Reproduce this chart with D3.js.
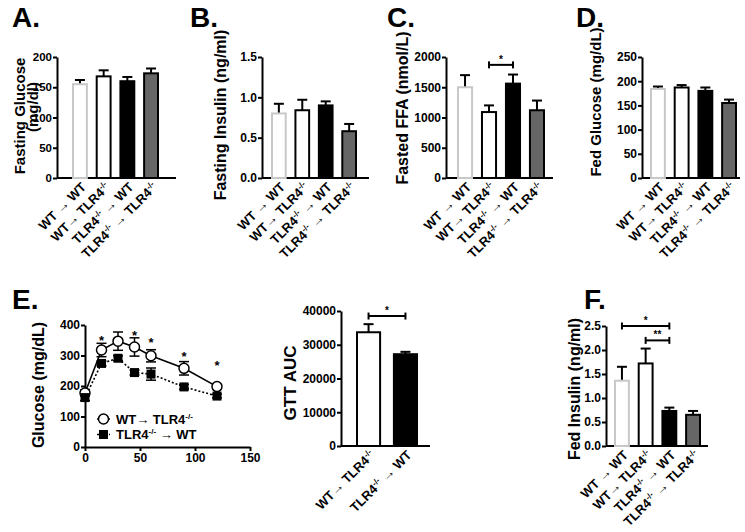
<!DOCTYPE html>
<html><head><meta charset="utf-8">
<script src="https://cdn.jsdelivr.net/npm/d3@7"></script>
<style>
body{margin:0;background:#fff;}
svg text{font-family:"Liberation Sans",Arial,Helvetica,sans-serif;font-weight:bold;fill:#000;}
</style></head><body>
<svg id="fig" width="745" height="532"></svg>
<script>
// ---------------- DATA ----------------
const groups4 = ["WT → WT", "WT→ TLR4-/-", "TLR4-/- → WT", "TLR4-/- → TLR4-/-"];
const groupsGTT = ["WT→ TLR4-/-", "TLR4-/- → WT"];

const fastingGlucose = [155, 168, 160, 173];
const fastingGlucoseSem = [7, 10, 7, 8];
const fastingGlucoseTicks = [0, 50, 100, 150, 200];

const fastingInsulin = [0.80, 0.84, 0.90, 0.58];
const fastingInsulinSem = [0.12, 0.13, 0.05, 0.09];
const fastingInsulinTicks = [0, 0.5, 1.0, 1.5];

const fastedFFA = [1500, 1090, 1560, 1120];
const fastedFFASem = [200, 110, 150, 160];
const fastedFFATicks = [0, 500, 1000, 1500, 2000];

const fedGlucose = [184, 187, 180, 155];
const fedGlucoseSem = [5, 5, 7, 7];
const fedGlucoseTicks = [0, 50, 100, 150, 200, 250];

const gttTime = [0, 15, 30, 45, 60, 90, 120];
const gttWTtoKO = [177, 318, 347, 328, 299, 258, 198];
const gttWTtoKOSem = [10, 22, 30, 30, 20, 22, 6];
const gttKOtoWT = [162, 274, 291, 244, 239, 197, 167];
const gttKOtoWTSem = [10, 8, 8, 8, 20, 8, 6];
const gttStarTimes = [15, 45, 60, 90, 120];
const gttStarLevels = [361, 377, 354, 308, 279];
const gttXTicks = [0, 50, 100, 150];
const gttYTicks = [0, 100, 200, 300, 400];

const gttAUC = [33700, 27200];
const gttAUCSem = [2400, 700];
const gttAUCTicks = [0, 10000, 20000, 30000, 40000];

const fedInsulin = [1.36, 1.72, 0.73, 0.65];
const fedInsulinSem = [0.29, 0.31, 0.07, 0.08];
const fedInsulinTicks = [0, 0.5, 1.0, 1.5, 2.0, 2.5];

// ---------------- STYLE ----------------
const fills4 = ["#ffffff", "#ffffff", "#000000", "#666666"];
const strokes4 = ["#c8c8c8", "#000000", "#000000", "#000000"];
const fillsGTT = ["#ffffff", "#000000"];
const strokesGTT = ["#000000", "#000000"];

const svg = d3.select("#fig");

function catLabel(g, str, x, y, fs, anchor, rot) {
  const t = g.append("text").attr("text-anchor", anchor).attr("font-size", fs)
    .attr("transform", `translate(${x},${y})` + (rot ? ` rotate(${rot})` : ""));
  const parts = str.split("-/-");
  let shifted = false;
  const sh = fs * 0.38;
  parts.forEach((p, i) => {
    if (p) {
      const s = t.append("tspan").text(p);
      if (shifted) { s.attr("dy", sh); shifted = false; }
    }
    if (i < parts.length - 1) {
      t.append("tspan").attr("font-size", fs * 0.62).attr("dy", -sh).text("-/-");
      shifted = true;
    }
  });
  return t;
}

function styleAxis(g, fs) {
  g.attr("font-family", null).attr("font-size", fs);
  g.select(".domain").attr("stroke-width", 2);
  g.selectAll(".tick line").attr("stroke-width", 2);
}

function barPanel(cfg) {
  const g = svg.append("g");
  const y = d3.scaleLinear().domain([0, cfg.max]).range([cfg.yBottom, cfg.yTop]);
  const x = d3.scaleBand().domain(cfg.cats).range([cfg.barL, cfg.barR]).paddingInner(cfg.pi);
  g.append("line").attr("x1", cfg.axisX).attr("x2", cfg.axisEnd)
    .attr("y1", y(0)).attr("y2", y(0)).attr("stroke", "#000").attr("stroke-width", 2);
  cfg.cats.forEach((c, i) => {
    const v = cfg.values[i], e = cfg.sem[i];
    const cx = x(c) + x.bandwidth() / 2;
    g.append("line").attr("x1", cx).attr("x2", cx).attr("y1", y(v)).attr("y2", y(v + e))
      .attr("stroke", "#000").attr("stroke-width", 2);
    g.append("line").attr("x1", cx - 5).attr("x2", cx + 5).attr("y1", y(v + e)).attr("y2", y(v + e))
      .attr("stroke", "#000").attr("stroke-width", 2);
    g.append("rect").attr("x", x(c) + 1).attr("y", y(v)).attr("width", x.bandwidth() - 2)
      .attr("height", y(0) - y(v)).attr("fill", cfg.fills[i]).attr("stroke", cfg.strokes[i])
      .attr("stroke-width", 2);
    catLabel(g, c, cx + 7, y(0) + 10, 13, "end", -45);
  });
  const ax = g.append("g").attr("transform", `translate(${cfg.axisX},0)`)
    .call(d3.axisLeft(y).tickValues(cfg.ticks).tickFormat(cfg.fmt).tickSize(4).tickSizeOuter(0).tickPadding(1));
  styleAxis(ax, cfg.tickFs || 12);
  (cfg.brackets || []).forEach(b => {
    const x1 = x(cfg.cats[b.from]) + x.bandwidth() / 2;
    const x2 = x(cfg.cats[b.to]) + x.bandwidth() / 2;
    const yy = y(b.level);
    g.append("line").attr("x1", x1).attr("x2", x2).attr("y1", yy).attr("y2", yy)
      .attr("stroke", "#000").attr("stroke-width", 2);
    [x1, x2].forEach(xx => g.append("line").attr("x1", xx).attr("x2", xx)
      .attr("y1", yy - 3.5).attr("y2", yy + 3.5).attr("stroke", "#000").attr("stroke-width", 2));
    g.append("text").attr("x", (x1 + x2) / 2).attr("y", yy - 2).attr("text-anchor", "middle")
      .attr("font-size", 10).attr("font-weight", "normal").text(b.label);
  });
  return g;
}

const f1 = d3.format(".1f");
const f0 = d3.format("d");

// A
barPanel({cats: groups4, values: fastingGlucose, sem: fastingGlucoseSem, ticks: fastingGlucoseTicks,
  fmt: f0, max: 200, yTop: 57, yBottom: 178, axisX: 57, axisEnd: 176, barL: 72, barR: 159, pi: 0.33,
  fills: fills4, strokes: strokes4, tickFs: 11.5});
// B
barPanel({cats: groups4, values: fastingInsulin, sem: fastingInsulinSem, ticks: fastingInsulinTicks,
  fmt: f1, max: 1.5, yTop: 57, yBottom: 178, axisX: 262, axisEnd: 369, barL: 271, barR: 357, pi: 0.33,
  fills: fills4, strokes: strokes4});
// C
barPanel({cats: groups4, values: fastedFFA, sem: fastedFFASem, ticks: fastedFFATicks,
  fmt: f0, max: 2000, yTop: 57, yBottom: 178, axisX: 446, axisEnd: 553, barL: 457, barR: 545, pi: 0.33,
  fills: fills4, strokes: strokes4, brackets: [{from: 1, to: 2, level: 1870, label: "*"}]});
// D
barPanel({cats: groups4, values: fedGlucose, sem: fedGlucoseSem, ticks: fedGlucoseTicks,
  fmt: f0, max: 250, yTop: 57, yBottom: 178, axisX: 642, axisEnd: 740, barL: 650, barR: 737, pi: 0.33,
  fills: fills4, strokes: strokes4});
// GTT AUC
barPanel({cats: groupsGTT, values: gttAUC, sem: gttAUCSem, ticks: gttAUCTicks,
  fmt: f0, max: 40000, yTop: 311, yBottom: 446, axisX: 341, axisEnd: 430, barL: 356, barR: 418, pi: 0.32,
  fills: fillsGTT, strokes: strokesGTT, brackets: [{from: 0, to: 1, level: 38500, label: "*"}]});
// F
barPanel({cats: groups4, values: fedInsulin, sem: fedInsulinSem, ticks: fedInsulinTicks,
  fmt: f1, max: 2.5, yTop: 326, yBottom: 446, axisX: 606, axisEnd: 708, barL: 614, barR: 701, pi: 0.33,
  fills: fills4, strokes: strokes4,
  brackets: [{from: 0, to: 2, level: 2.5, label: "*"}, {from: 1, to: 2, level: 2.2, label: "**"}]});

// E: GTT curves
(function () {
  const g = svg.append("g");
  const x = d3.scaleLinear().domain([0, 150]).range([85, 250]);
  const y = d3.scaleLinear().domain([0, 400]).range([447, 325]);
  const ax = g.append("g").attr("transform", `translate(0,${y(0)})`)
    .call(d3.axisBottom(x).tickValues(gttXTicks).tickSize(4).tickSizeOuter(0).tickPadding(2));
  styleAxis(ax, 12);
  const ay = g.append("g").attr("transform", `translate(${x(0)},0)`)
    .call(d3.axisLeft(y).tickValues(gttYTicks).tickSize(4).tickSizeOuter(0).tickPadding(1));
  styleAxis(ay, 12);

  const line = d3.line().x((d, i) => x(gttTime[i])).y(d => y(d));
  g.append("path").datum(gttWTtoKO).attr("d", line).attr("fill", "none")
    .attr("stroke", "#000").attr("stroke-width", 1.6);
  g.append("path").datum(gttKOtoWT).attr("d", line).attr("fill", "none")
    .attr("stroke", "#000").attr("stroke-width", 1.6).attr("stroke-dasharray", "2,2");

  function errs(vals, sem) {
    vals.forEach((v, i) => {
      const cx = x(gttTime[i]);
      g.append("line").attr("x1", cx).attr("x2", cx).attr("y1", y(v - sem[i])).attr("y2", y(v + sem[i]))
        .attr("stroke", "#000").attr("stroke-width", 1.5);
      [v - sem[i], v + sem[i]].forEach(e => g.append("line").attr("x1", cx - 5).attr("x2", cx + 5)
        .attr("y1", y(e)).attr("y2", y(e)).attr("stroke", "#000").attr("stroke-width", 1.5));
    });
  }
  errs(gttWTtoKO, gttWTtoKOSem);
  errs(gttKOtoWT, gttKOtoWTSem);

  g.selectAll("circle.wt").data(gttWTtoKO).join("circle").attr("class", "wt")
    .attr("cx", (d, i) => x(gttTime[i])).attr("cy", d => y(d)).attr("r", 5)
    .attr("fill", "#fff").attr("stroke", "#000").attr("stroke-width", 1.5);
  g.selectAll("rect.ko").data(gttKOtoWT).join("rect").attr("class", "ko")
    .attr("x", (d, i) => x(gttTime[i]) - 4.5).attr("y", d => y(d) - 4.5)
    .attr("width", 9).attr("height", 9).attr("fill", "#000");

  gttStarTimes.forEach((t, i) => {
    g.append("text").attr("x", x(t)).attr("y", y(gttStarLevels[i]) + 8).attr("text-anchor", "middle")
      .attr("font-size", 13).text("*");
  });

  // legend
  g.append("line").attr("x1", 97).attr("x2", 110).attr("y1", 419).attr("y2", 419)
    .attr("stroke", "#000").attr("stroke-width", 1.5);
  g.append("circle").attr("cx", 103.5).attr("cy", 419).attr("r", 5)
    .attr("fill", "#fff").attr("stroke", "#000").attr("stroke-width", 1.5);
  catLabel(g, "WT→ TLR4-/-", 116, 424, 13, "start", 0);
  g.append("line").attr("x1", 97).attr("x2", 110).attr("y1", 434.5).attr("y2", 434.5)
    .attr("stroke", "#000").attr("stroke-width", 1.5).attr("stroke-dasharray", "2,2");
  g.append("rect").attr("x", 99).attr("y", 430).attr("width", 9).attr("height", 9).attr("fill", "#000");
  catLabel(g, "TLR4-/- → WT", 116, 439, 13, "start", 0);
})();

// Y titles
const yt = [
  {t: "Fasting Glucose", x: 25, cy: 116, fs: 15},
  {t: "(mg/dl)", x: 37.5, cy: 107, fs: 15},
  {t: "Fasting Insulin (ng/ml)", x: 226, cy: 115, fs: 16},
  {t: "Fasted FFA (nmol/L)", x: 408, cy: 108, fs: 16},
  {t: "Fed Glucose (mg/dL)", x: 601, cy: 102, fs: 15},
  {t: "Glucose (mg/dL)", x: 44, cy: 385, fs: 16},
  {t: "GTT AUC", x: 296, cy: 383, fs: 17},
  {t: "Fed Insulin (ng/ml)", x: 580, cy: 389, fs: 16}
];
yt.forEach(d => svg.append("text").attr("text-anchor", "middle").attr("font-size", d.fs)
  .attr("transform", `translate(${d.x},${d.cy}) rotate(-90)`).text(d.t));

// Panel letters
const letters = [
  {t: "A.", x: 12, y: 27}, {t: "B.", x: 190, y: 27}, {t: "C.", x: 387, y: 27},
  {t: "D.", x: 576, y: 27}, {t: "E.", x: 12, y: 309}, {t: "F.", x: 584, y: 309}
];
letters.forEach(d => svg.append("text").attr("x", d.x).attr("y", d.y).attr("font-size", 28).text(d.t));
</script>
</body></html>
